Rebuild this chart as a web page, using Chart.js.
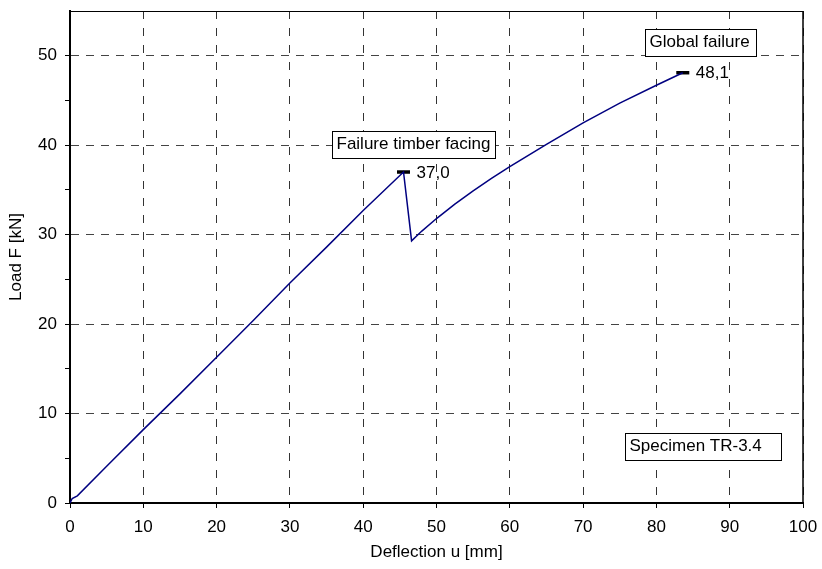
<!DOCTYPE html>
<html lang="en">
<head>
  <meta charset="UTF-8" />
  <title>Load-deflection TR-3.4</title>
  <script src="https://cdn.jsdelivr.net/npm/chart.js"></script>
  <style>
    html, body { margin: 0; padding: 0; background: #fff; }
    #wrap { width: 822px; height: 569px; }
  </style>
</head>
<body>
  <div id="wrap"><canvas id="loadChart" width="822" height="569"></canvas></div>

  <script>
    // Deflection u [mm] and load F [kN]
    const deflection = [0, 0.3, 1, 5, 10, 15, 20, 25, 30, 35, 40, 45.5, 46.6, 48, 50, 52.5, 55, 57.5, 60, 65, 70, 75, 80, 83.6];
    const load = [0, 0.5, 0.8, 4.1, 8.2, 12.2, 16.3, 20.4, 24.6, 28.6, 32.7, 37.0, 29.3, 30.4, 31.8, 33.4, 34.9, 36.3, 37.6, 40.1, 42.5, 44.7, 46.7, 48.1];

    // peak markers
    const peakDeflection = [45.5, 83.6];
    const peakLoad = [37.0, 48.1];

    // text boxes
    const boxTexts = ['Failure timber facing', 'Global failure', 'Specimen TR-3.4'];

    const FONT = "'Liberation Sans', Arial, sans-serif";

    // frame, boxes and value labels
    const decorPlugin = {
      id: 'decor',
      afterDatasetsDraw(chart) {
        const { ctx, chartArea: a, scales } = chart;
        ctx.save();
        // top / right frame
        ctx.strokeStyle = '#000';
        ctx.lineWidth = 1;
        ctx.beginPath();
        ctx.moveTo(a.left, a.top + 0.5);
        ctx.lineTo(a.right, a.top + 0.5);
        ctx.stroke();
        ctx.lineWidth = 1.5;
        ctx.beginPath();
        ctx.moveTo(a.right, a.top);
        ctx.lineTo(a.right, a.bottom);
        ctx.stroke();

        ctx.font = '17px ' + FONT;
        ctx.fillStyle = '#000';

        // value labels next to the peak markers
        ctx.textBaseline = 'middle';
        ctx.textAlign = 'left';
        peakDeflection.forEach((u, i) => {
          const px = scales.x.getPixelForValue(u);
          const py = scales.y.getPixelForValue(peakLoad[i]);
          ctx.fillText(peakLoad[i].toFixed(1).replace('.', ','), px + 13, py + 1);
        });

        // labelled boxes (left/top given in data units)
        const boxes = [
          { u: 35.7, f: 41.55, w: 163 },
          { u: 78.5, f: 52.95, w: 111 },
          { u: 75.76, f: 7.85, w: 156 }
        ];
        ctx.textBaseline = 'alphabetic';
        boxes.forEach((b, i) => {
          const x = Math.round(scales.x.getPixelForValue(b.u)) + 0.5;
          const y = Math.round(scales.y.getPixelForValue(b.f)) + 0.5;
          ctx.fillStyle = '#fff';
          ctx.fillRect(x, y, b.w, 27);
          ctx.strokeStyle = '#000';
          ctx.lineWidth = 1;
          ctx.strokeRect(x, y, b.w, 27);
          ctx.fillStyle = '#000';
          ctx.fillText(boxTexts[i], x + 4, y + 17);
        });
        ctx.restore();
      }
    };

    const ctx = document.getElementById('loadChart').getContext('2d');
    new Chart(ctx, {
      type: 'scatter',
      data: {
        datasets: [
          {
            label: 'TR-3.4',
            data: deflection.map((u, i) => ({ x: u, y: load[i] })),
            showLine: true,
            borderColor: '#000080',
            borderWidth: 1.5,
            pointRadius: 0,
            tension: 0
          },
          {
            label: 'peaks',
            data: peakDeflection.map((u, i) => ({ x: u, y: peakLoad[i] })),
            pointStyle: 'line',
            pointRadius: 6.5,
            borderColor: '#000',
            pointBorderWidth: 3.5,
            borderWidth: 3.5
          }
        ]
      },
      options: {
        responsive: false,
        animation: false,
        layout: { padding: { top: 11, right: 19, left: 0, bottom: 0 } },
        plugins: {
          legend: { display: false },
          tooltip: { enabled: false }
        },
        scales: {
          x: {
            type: 'linear',
            min: 0,
            max: 100,
            afterFit: s => { s.height = 66; s.paddingLeft = 0; s.paddingRight = 0; },
            ticks: { stepSize: 10, color: '#000', font: { family: FONT, size: 17 }, padding: 9, maxRotation: 0 },
            grid: { color: '#333', lineWidth: 1, tickColor: '#000', tickLength: 5 },
            border: { color: '#000', width: 2, dash: [8, 9] },
            title: { display: true, text: 'Deflection u [mm]', color: '#000', font: { family: FONT, size: 17 }, padding: { top: 0, bottom: 6 } }
          },
          y: {
            min: 0,
            max: 55,
            afterFit: s => { s.width = 70; s.paddingTop = 0; s.paddingBottom = 0; },
            ticks: {
              stepSize: 5,
              color: '#000',
              font: { family: FONT, size: 17 },
              padding: 8,
              callback: v => (v % 10 === 0 ? v : '')
            },
            grid: {
              color: c => (c.tick && c.tick.value % 10 === 0 ? '#444' : 'rgba(0,0,0,0)'),
              tickColor: c => (c.tick && c.tick.value === 55 ? 'rgba(0,0,0,0)' : '#000'),
              lineWidth: 1,
              tickLength: 5
            },
            border: { color: '#000', width: 2, dash: [8, 7] },
            title: { display: true, text: 'Load F [kN]', color: '#000', font: { family: FONT, size: 17 }, padding: { top: 6, bottom: 0 } }
          }
        }
      },
      plugins: [decorPlugin]
    });
  </script>
</body>
</html>
